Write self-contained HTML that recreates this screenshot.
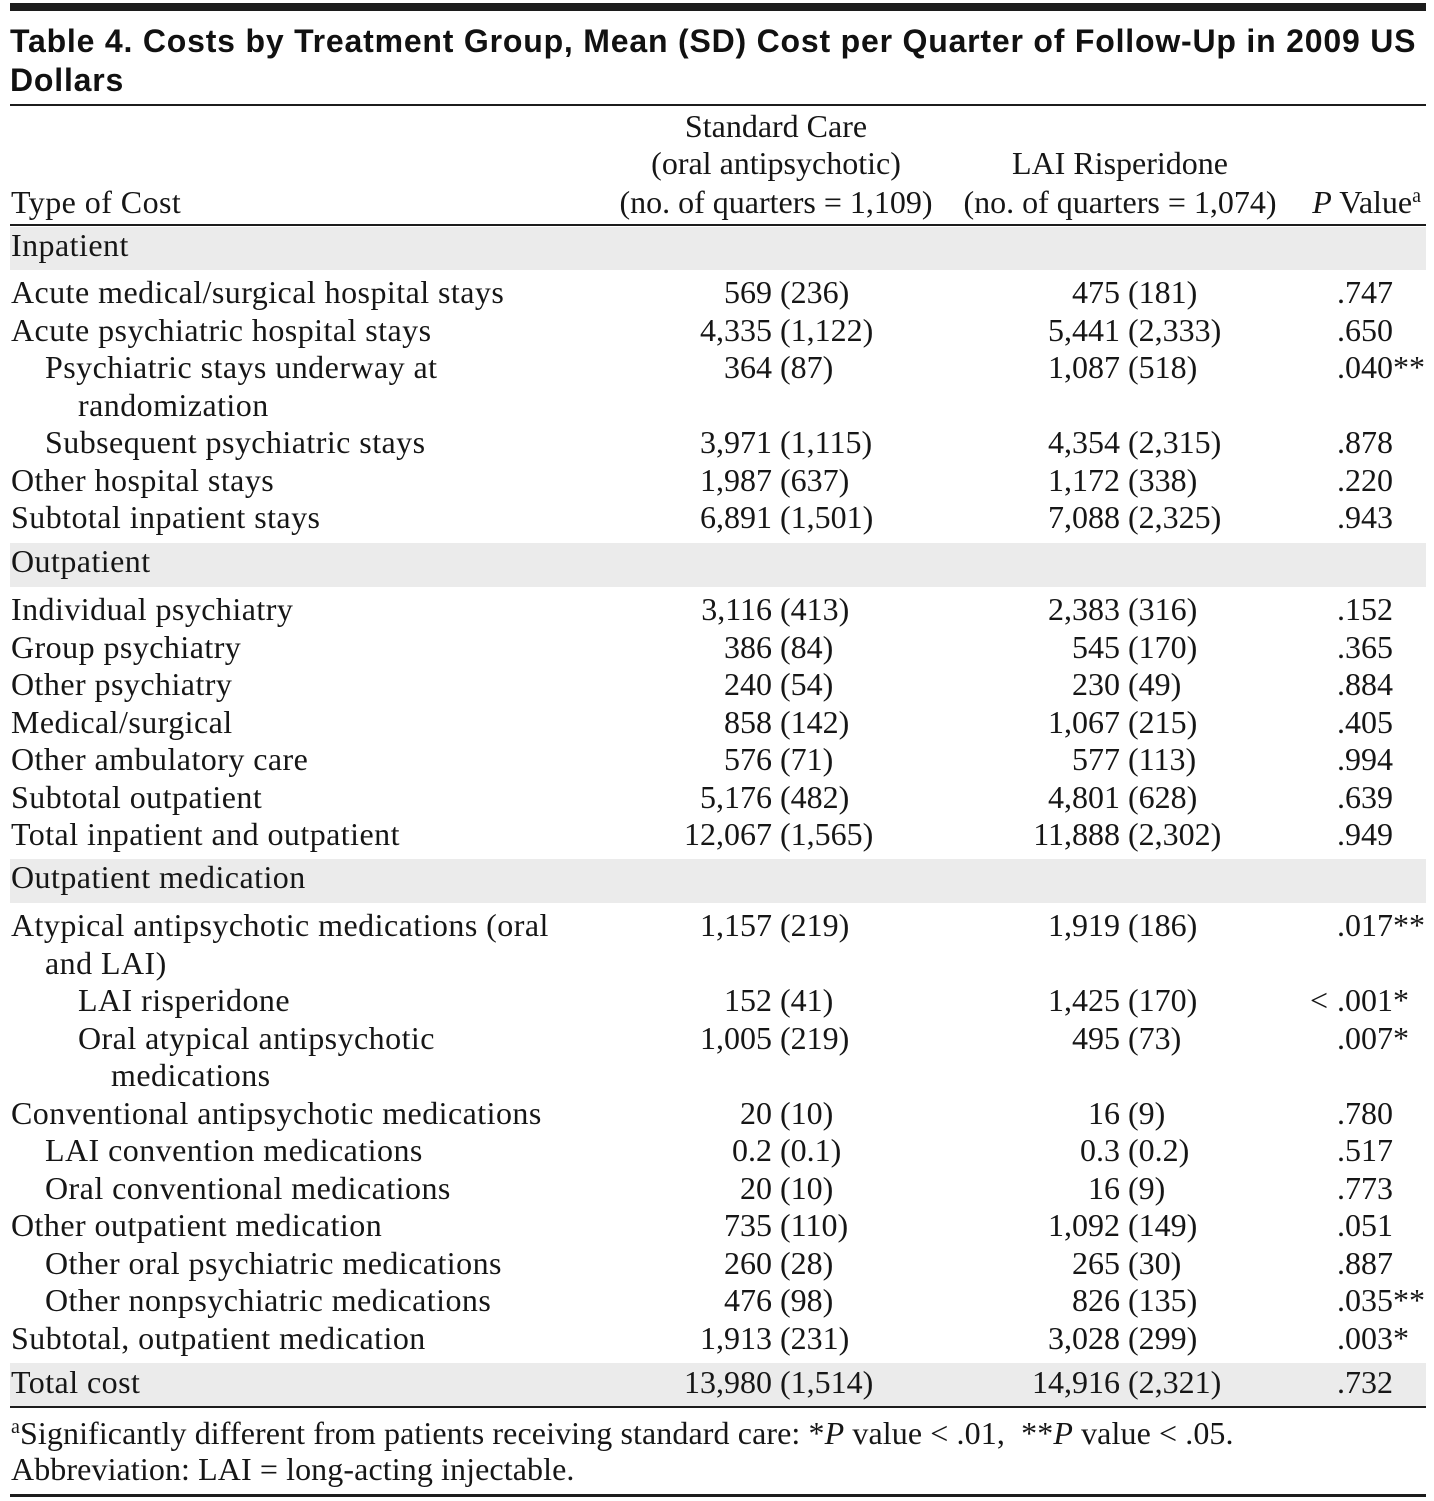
<!DOCTYPE html>
<html>
<head>
<meta charset="utf-8">
<style>
html,body{margin:0;padding:0;background:#fff;}
body{width:1434px;height:1501px;position:relative;overflow:hidden;font-family:"Liberation Serif","DejaVu Serif",serif;color:#161616;font-size:32px;}
.bar{position:absolute;left:10px;width:1416px;background:#1c1c1c;}
.band{position:absolute;left:10px;width:1416px;background:#ebebeb;}
.t{position:absolute;left:10px;font-family:"Liberation Sans",Arial,sans-serif;font-weight:bold;font-size:32px;letter-spacing:0.8px;line-height:32px;white-space:nowrap;color:#111;}
.r{position:absolute;left:0;width:1434px;height:32px;}
.r > span{position:absolute;top:1px;white-space:nowrap;line-height:32px;}
.l0,.l1,.l2,.l3{letter-spacing:0.45px;}
.l0{left:11px}.l1{left:45px}.l2{left:78px}.l3{left:111px}
.fn{left:11px;letter-spacing:0.1px;}
.m2{right:662px}.s2{left:780px}
.m3{right:314px}.s3{left:1128px}
.p{left:1337px}
.lt{right:106px}
.c2{left:576px;width:400px;text-align:center}
.c3{left:920px;width:400px;text-align:center}
.sup{position:relative;top:-11px;font-size:20px;line-height:0;}
i{font-style:italic;}
</style>
</head>
<body>
<div class="bar" style="top:3px;height:8px;"></div>
<div class="t" style="top:25px;">Table 4. Costs by Treatment Group, Mean (SD) Cost per Quarter of Follow-Up in 2009 US</div>
<div class="t" style="top:64px;">Dollars</div>
<div class="bar" style="top:104px;height:2px;"></div>

<div class="r" style="top:109px"><span class="c2">Standard Care</span></div>
<div class="r" style="top:146px"><span class="c2">(oral antipsychotic)</span><span class="c3">LAI Risperidone</span></div>
<div class="r" style="top:185px"><span class="l0">Type of Cost</span><span class="c2">(no. of quarters = 1,109)</span><span class="c3">(no. of quarters = 1,074)</span><span style="right:13px"><i>P</i> Value<span class="sup">a</span></span></div>
<div class="bar" style="top:224px;height:2px;"></div>

<div class="band" style="top:227px;height:43px;"></div>
<div class="band" style="top:543px;height:44px;"></div>
<div class="band" style="top:859px;height:44px;"></div>
<div class="band" style="top:1363px;height:43px;"></div>

<div class="r" style="top:228px"><span class="l0">Inpatient</span></div>
<div class="r" style="top:275px"><span class="l0">Acute medical/surgical hospital stays</span><span class="m2">569</span><span class="s2">(236)</span><span class="m3">475</span><span class="s3">(181)</span><span class="p">.747</span></div>
<div class="r" style="top:312.5px"><span class="l0">Acute psychiatric hospital stays</span><span class="m2">4,335</span><span class="s2">(1,122)</span><span class="m3">5,441</span><span class="s3">(2,333)</span><span class="p">.650</span></div>
<div class="r" style="top:350px"><span class="l1">Psychiatric stays underway at</span><span class="m2">364</span><span class="s2">(87)</span><span class="m3">1,087</span><span class="s3">(518)</span><span class="p">.040**</span></div>
<div class="r" style="top:387.5px"><span class="l2">randomization</span></div>
<div class="r" style="top:425px"><span class="l1">Subsequent psychiatric stays</span><span class="m2">3,971</span><span class="s2">(1,115)</span><span class="m3">4,354</span><span class="s3">(2,315)</span><span class="p">.878</span></div>
<div class="r" style="top:462.5px"><span class="l0">Other hospital stays</span><span class="m2">1,987</span><span class="s2">(637)</span><span class="m3">1,172</span><span class="s3">(338)</span><span class="p">.220</span></div>
<div class="r" style="top:500px"><span class="l0">Subtotal inpatient stays</span><span class="m2">6,891</span><span class="s2">(1,501)</span><span class="m3">7,088</span><span class="s3">(2,325)</span><span class="p">.943</span></div>

<div class="r" style="top:544px"><span class="l0">Outpatient</span></div>
<div class="r" style="top:592px"><span class="l0">Individual psychiatry</span><span class="m2">3,116</span><span class="s2">(413)</span><span class="m3">2,383</span><span class="s3">(316)</span><span class="p">.152</span></div>
<div class="r" style="top:629.5px"><span class="l0">Group psychiatry</span><span class="m2">386</span><span class="s2">(84)</span><span class="m3">545</span><span class="s3">(170)</span><span class="p">.365</span></div>
<div class="r" style="top:667px"><span class="l0">Other psychiatry</span><span class="m2">240</span><span class="s2">(54)</span><span class="m3">230</span><span class="s3">(49)</span><span class="p">.884</span></div>
<div class="r" style="top:704.5px"><span class="l0">Medical/surgical</span><span class="m2">858</span><span class="s2">(142)</span><span class="m3">1,067</span><span class="s3">(215)</span><span class="p">.405</span></div>
<div class="r" style="top:742px"><span class="l0">Other ambulatory care</span><span class="m2">576</span><span class="s2">(71)</span><span class="m3">577</span><span class="s3">(113)</span><span class="p">.994</span></div>
<div class="r" style="top:779.5px"><span class="l0">Subtotal outpatient</span><span class="m2">5,176</span><span class="s2">(482)</span><span class="m3">4,801</span><span class="s3">(628)</span><span class="p">.639</span></div>
<div class="r" style="top:817px"><span class="l0">Total inpatient and outpatient</span><span class="m2">12,067</span><span class="s2">(1,565)</span><span class="m3">11,888</span><span class="s3">(2,302)</span><span class="p">.949</span></div>

<div class="r" style="top:860px"><span class="l0">Outpatient medication</span></div>
<div class="r" style="top:908px"><span class="l0">Atypical antipsychotic medications (oral</span><span class="m2">1,157</span><span class="s2">(219)</span><span class="m3">1,919</span><span class="s3">(186)</span><span class="p">.017**</span></div>
<div class="r" style="top:945.5px"><span class="l1">and LAI)</span></div>
<div class="r" style="top:983px"><span class="l2">LAI risperidone</span><span class="m2">152</span><span class="s2">(41)</span><span class="m3">1,425</span><span class="s3">(170)</span><span class="lt">&lt;</span><span class="p">.001*</span></div>
<div class="r" style="top:1020.5px"><span class="l2">Oral atypical antipsychotic</span><span class="m2">1,005</span><span class="s2">(219)</span><span class="m3">495</span><span class="s3">(73)</span><span class="p">.007*</span></div>
<div class="r" style="top:1058px"><span class="l3">medications</span></div>
<div class="r" style="top:1095.5px"><span class="l0">Conventional antipsychotic medications</span><span class="m2">20</span><span class="s2">(10)</span><span class="m3">16</span><span class="s3">(9)</span><span class="p">.780</span></div>
<div class="r" style="top:1133px"><span class="l1">LAI convention medications</span><span class="m2">0.2</span><span class="s2">(0.1)</span><span class="m3">0.3</span><span class="s3">(0.2)</span><span class="p">.517</span></div>
<div class="r" style="top:1170.5px"><span class="l1">Oral conventional medications</span><span class="m2">20</span><span class="s2">(10)</span><span class="m3">16</span><span class="s3">(9)</span><span class="p">.773</span></div>
<div class="r" style="top:1208px"><span class="l0">Other outpatient medication</span><span class="m2">735</span><span class="s2">(110)</span><span class="m3">1,092</span><span class="s3">(149)</span><span class="p">.051</span></div>
<div class="r" style="top:1245.5px"><span class="l1">Other oral psychiatric medications</span><span class="m2">260</span><span class="s2">(28)</span><span class="m3">265</span><span class="s3">(30)</span><span class="p">.887</span></div>
<div class="r" style="top:1283px"><span class="l1">Other nonpsychiatric medications</span><span class="m2">476</span><span class="s2">(98)</span><span class="m3">826</span><span class="s3">(135)</span><span class="p">.035**</span></div>
<div class="r" style="top:1320.5px"><span class="l0">Subtotal, outpatient medication</span><span class="m2">1,913</span><span class="s2">(231)</span><span class="m3">3,028</span><span class="s3">(299)</span><span class="p">.003*</span></div>

<div class="r" style="top:1365px"><span class="l0">Total cost</span><span class="m2">13,980</span><span class="s2">(1,514)</span><span class="m3">14,916</span><span class="s3">(2,321)</span><span class="p">.732</span></div>
<div class="bar" style="top:1406px;height:2px;"></div>

<div class="r" style="top:1416px"><span class="fn"><span class="sup">a</span>Significantly different from patients receiving standard care: *<i>P</i> value &lt; .01,&nbsp; **<i>P</i> value &lt; .05.</span></div>
<div class="r" style="top:1452px"><span class="fn">Abbreviation: LAI = long-acting injectable.</span></div>
<div class="bar" style="top:1494px;height:3px;"></div>
</body>
</html>
